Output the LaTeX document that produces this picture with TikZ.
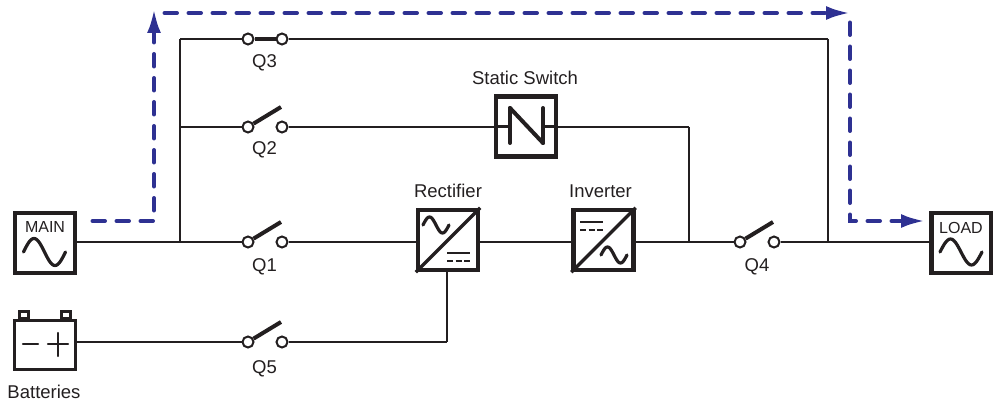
\documentclass[tikz,border=0pt]{standalone}
\usepackage{fontspec}
\setmainfont{Liberation Sans}
\usetikzlibrary{arrows.meta}
\definecolor{wirecol}{HTML}{231F20}
\definecolor{flowcol}{HTML}{2E3192}
\tikzset{
    wire/.style={draw=wirecol, line width=2.8pt},
    unit/.style={draw=wirecol, line width=4.4pt, minimum width=60pt, minimum height=60pt, inner sep=0pt},
    contact/.style={circle, draw=wirecol, fill=white, line width=2pt, minimum size=11pt, inner sep=0pt},
    blade/.style={draw=wirecol, line width=4pt},
    sym/.style={draw=wirecol, line width=3.2pt, line cap=round},
    thinsym/.style={draw=wirecol, line width=2.4pt},
    flow/.style={draw=flowcol, line width=4pt, line cap=round, dash pattern=on 12.5pt off 11.5pt},
    flowtip/.style={-{Latex[length=24pt,width=14pt]}},
    lab/.style={text=wirecol, inner sep=0pt, font=\fontsize{18.5}{20}\selectfont},
    smalllab/.style={text=wirecol, inner sep=0pt, font=\fontsize{16}{18}\selectfont}
}
\newcommand{\sinesym}[4]{\draw [sym] plot [smooth, domain=-1:1, samples=33] ({#1+#3*\x}, {#2+#4*sin(180*\x)});}
\newcommand{\dcsym}[3]{
    \draw [thinsym] (#1-11.5, #2) -- (#1+11.5, #2);
    \draw [thinsym, dash pattern=on 6pt off 2.5pt] (#1-11.5, #3) -- (#1+11.5, #3);
}
\begin{document}
\begin{tikzpicture}[x=1pt, y=-1pt]
        \useasboundingbox (0, 0) rectangle (993, 401);
        % units
        \node [unit] (MAIN) at (45, 243) {};
        \node [unit] (LOAD) at (961.5, 243) {};
        \node [unit] (RECT) at (448, 240) {};
        \node [unit] (INV) at (603.5, 240) {};
        \node [unit] (SS) at (526, 126.5) {};
        \node [unit, line width=3.4pt, minimum width=61pt, minimum height=49pt] (BAT) at (45, 345) {};
        \node [draw=wirecol, line width=3pt, minimum width=9pt, minimum height=7pt, inner sep=0pt] (BATL) at (24.3, 315) {};
        \node [draw=wirecol, line width=3pt, minimum width=9pt, minimum height=7pt, inner sep=0pt] (BATR) at (65.5, 315) {};
        % switch contacts
        \node [contact] (Q1a) at (248, 242) {};
        \node [contact] (Q1b) at (282, 242) {};
        \node [contact] (Q2a) at (248, 127) {};
        \node [contact] (Q2b) at (282, 127) {};
        \node [contact] (Q3a) at (248, 39) {};
        \node [contact] (Q3b) at (282, 39) {};
        \node [contact] (Q4a) at (740, 242) {};
        \node [contact] (Q4b) at (774, 242) {};
        \node [contact] (Q5a) at (248, 342) {};
        \node [contact] (Q5b) at (282, 342) {};
        \coordinate (Q1t) at (281, 222);
        \coordinate (Q2t) at (281, 107);
        \coordinate (Q4t) at (773, 222);
        \coordinate (Q5t) at (281, 322);
        % junctions
        \coordinate (J1) at (180, 242);
        \coordinate (J2) at (180, 127);
        \coordinate (J3) at (180, 39);
        \coordinate (J4) at (828, 39);
        \coordinate (J5) at (828, 242);
        \coordinate (J6) at (689, 127);
        \coordinate (J7) at (689, 242);
        \coordinate (J8) at (447, 342);
        % wires
        \path [wire] (MAIN.east |- J1) edge node {} (J1);
        \path [wire] (J1) edge node {} (Q1a);
        \path [wire] (J1) edge node {} (J2);
        \path [wire] (J2) edge node {} (J3);
        \path [wire, line cap=square] (J3) edge node {} (Q3a);
        \path [wire] (J2) edge node {} (Q2a);
        \path [wire] (Q3b) edge node {} (J4);
        \path [wire, line cap=square] (J4) edge node {} (J5);
        \path [wire] (Q2b) edge node {} (Q2b -| SS.west);
        \path [wire] (Q2b -| SS.east) edge node {} (J6);
        \path [wire, line cap=square] (J6) edge node {} (J7);
        \path [wire] (Q1b) edge node {} (Q1b -| RECT.west);
        \path [wire] (Q1b -| RECT.east) edge node {} (Q1b -| INV.west);
        \path [wire] (Q1b -| INV.east) edge node {} (J7);
        \path [wire] (J7) edge node {} (Q4a);
        \path [wire] (Q4b) edge node {} (J5);
        \path [wire] (J5) edge node {} (J5 -| LOAD.west);
        \path [wire] (BAT.east |- Q5a) edge node {} (Q5a);
        \path [wire] (Q5b) edge node {} (J8);
        \path [wire, line cap=square] (J8) edge node {} (J8 |- RECT.south);
        % blades
        \path [blade] (Q1a) edge node {} (Q1t);
        \path [blade] (Q2a) edge node {} (Q2t);
        \path [blade] (Q3a) edge node {} (Q3b);
        \path [blade] (Q4a) edge node {} (Q4t);
        \path [blade] (Q5a) edge node {} (Q5t);
        % symbols
        \sinesym{44.5}{252}{21}{13.5}
        \sinesym{961}{252}{21}{13}
        \sinesym{436}{225}{13}{8}
        \sinesym{614}{255}{13}{8}
        \draw [sym, line cap=butt] (RECT.south west) -- (RECT.north east);
        \draw [sym, line cap=butt] (INV.south west) -- (INV.north east);
        \dcsym{458.5}{253}{261}
        \dcsym{591.5}{222}{230}
        \draw [sym, line width=4pt] (510, 108) -- (510, 143);
        \draw [sym, line width=4pt] (510, 108) -- (543, 143);
        \draw [sym, line width=4pt] (543, 108) -- (543, 143);
        \draw [sym, line cap=butt] (SS.west) -- (510, 126.5);
        \draw [sym, line cap=butt] (543, 126.5) -- (SS.east);
        \draw [thinsym, line cap=round] (23, 344) -- (38, 344);
        \draw [thinsym, line cap=round] (48, 344) -- (68, 344);
        \draw [thinsym, line cap=round] (58, 333) -- (58, 356);
        % labels
        \node [smalllab] (MAINt) at (45, 227) {MAIN};
        \node [smalllab] (LOADt) at (961, 227.5) {LOAD};
        \node [lab] (Q1l) at (264.5, 266.5) {Q1};
        \node [lab] (Q2l) at (264.5, 149.5) {Q2};
        \node [lab] (Q3l) at (264.5, 62.5) {Q3};
        \node [lab] (Q4l) at (757, 266.5) {Q4};
        \node [lab] (Q5l) at (264.5, 368.5) {Q5};
        \node [lab] (RECTl) at (448, 191) {Rectifier};
        \node [lab] (INVl) at (600.5, 191) {Inverter};
        \node [lab] (SSl) at (525, 78) {Static Switch};
        \node [lab] (BATl) at (44, 392) {Batteries};
        % bypass flow
        \coordinate (F1) at (92.5, 221);
        \coordinate (F2) at (154, 221);
        \coordinate (F3) at (154, 9);
        \coordinate (F4) at (164.5, 13);
        \coordinate (F5) at (850, 13);
        \coordinate (F6) at (850, 22.5);
        \coordinate (F7) at (850, 221);
        \coordinate (F8) at (925, 221);
        \draw [flow, flowtip] (F1) -- (F2) -- (F3);
        \draw [flow, flowtip] (F4) -- (F5);
        \draw [flow, flowtip] (F6) -- (F7) -- (F8);
    \end{tikzpicture}
\end{document}
